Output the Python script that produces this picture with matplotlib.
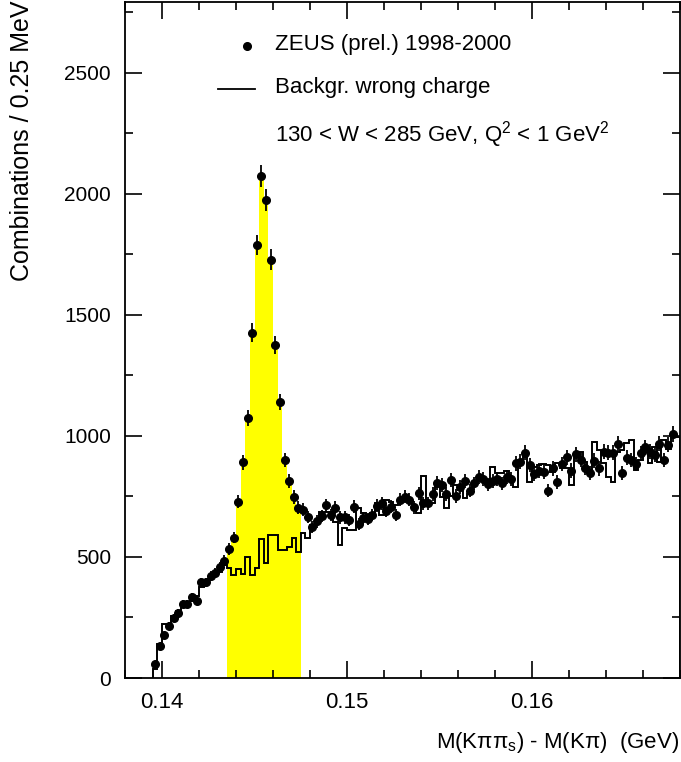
import numpy as np
import matplotlib
matplotlib.use("Agg")
import matplotlib.pyplot as plt
from matplotlib.ticker import MultipleLocator

plt.rcParams['font.family'] = ['Liberation Sans', 'DejaVu Sans']
plt.rcParams['mathtext.fontset'] = 'custom'
plt.rcParams['mathtext.rm'] = 'Liberation Sans'
plt.rcParams['mathtext.it'] = 'Liberation Sans:italic'

# delta M histogram, 0.25 MeV bins starting at 0.1395 GeV
bin_lo = 0.1395
bin_w = 0.00025

# ZEUS data (combinations per bin)
data = [58, 133, 178, 215, 249, 270, 306, 306, 333, 319,
        395, 395, 421, 432, 457, 485, 533, 580, 728, 891,
        1074, 1427, 1788, 2074, 1975, 1729, 1377, 1140, 901, 815,
        748, 704, 695, 665, 624, 647, 669, 713, 673, 704,
        664, 664, 653, 708, 636, 662, 656, 673, 711, 722,
        691, 708, 673, 736, 749, 736, 705, 763, 722, 722,
        760, 807, 797, 760, 818, 752, 790, 814, 774, 804,
        829, 821, 800, 815, 821, 804, 829, 821, 887, 894,
        931, 880, 843, 857, 853, 774, 866, 811, 884, 912,
        857, 924, 901, 869, 846, 898, 866, 935, 931, 931,
        967, 846, 910, 901, 884, 929, 953, 935, 921, 967,
        901, 963, 1008]

# wrong charge background histogram
bkg = [36, 140, 223, 215, 255, 275, 300, 310, 320, 340,
       375, 400, 410, 425, 440, 465, 455, 425, 450, 430,
       500, 425, 455, 575, 475, 590, 590, 530, 530, 540,
       580, 520, 600, 580, 632, 653, 687, 687, 687, 646,
       550, 618, 612, 612, 701, 680, 674, 680, 722, 674,
       736, 729, 715, 736, 749, 736, 700, 680, 835, 715,
       722, 798, 749, 701, 752, 798, 777, 742, 760, 804,
       818, 818, 818, 871, 846, 846, 857, 818, 791, 887,
       928, 811, 873, 880, 884, 880, 853, 887, 866, 866,
       798, 915, 935, 894, 846, 977, 942, 887, 832, 811,
       935, 942, 970, 983, 860, 901, 942, 887, 953, 894,
       983, 945, 997, 997]

# signal window (bins shaded yellow)
sig_lo, sig_hi = 16, 32

data = np.array(data, dtype=float)
bkg = np.array(bkg, dtype=float)
centers = bin_lo + bin_w * (np.arange(len(data)) + 0.5)
edges = bin_lo + bin_w * np.arange(len(bkg) + 1)

fig = plt.figure(figsize=(6.81, 7.62), dpi=100)
ax = fig.add_axes([125/681, 1 - 678/762, 555/681, 676.5/762])

ax.stairs(data[sig_lo:sig_hi], edges[sig_lo:sig_hi + 1], fill=True,
          color='#ffff00', linewidth=0, zorder=1)
ax.stairs(bkg, edges, color='black', linewidth=1.4, baseline=0, zorder=2)
ax.errorbar(centers, data, yerr=np.sqrt(data), fmt='o', color='black',
            ms=5.5, elinewidth=1.3, capsize=0, zorder=3)

ax.set_xlim(0.138, 0.168)
ax.set_ylim(0, 2795)
ax.xaxis.set_major_locator(MultipleLocator(0.01))
ax.xaxis.set_minor_locator(MultipleLocator(0.002))
ax.yaxis.set_major_locator(MultipleLocator(500))
ax.yaxis.set_minor_locator(MultipleLocator(250))
ax.tick_params(which='both', direction='in', top=True, right=True,
               labelsize=15, width=1.2, pad=10)
ax.tick_params(axis='x', labelsize=16)
ax.tick_params(which='major', length=12)
ax.tick_params(which='minor', length=6)
ax.xaxis.set_major_formatter(lambda t, pos: '%.2f' % t)
for s in ax.spines.values():
    s.set_linewidth(1.3)

# legend drawn by hand
ax.plot([0.2198], [0.934], 'o', color='black', ms=5.5, transform=ax.transAxes)
ax.plot([0.1676, 0.2342], [0.871, 0.871], color='black', lw=1.3,
        transform=ax.transAxes)
ax.text(0.27, 0.928, 'ZEUS (prel.) 1998-2000', fontsize=16,
        transform=ax.transAxes, va='baseline')
ax.text(0.27, 0.8647, 'Backgr. wrong charge', fontsize=16,
        transform=ax.transAxes, va='baseline')
ax.text(0.27, 0.7937, r'130 < W < 285 GeV, Q$^2$ < 1 GeV$^2$', fontsize=16,
        transform=ax.transAxes, va='baseline')

fig.text(0.997, 1 - 748/762, 'M(Kππ$_{\\mathrm{s}}$) - M(Kπ)  (GeV)',
         fontsize=16, ha='right', va='baseline')
fig.text(22/681, 0.999, 'Combinations / 0.25 MeV', fontsize=18,
         rotation=90, ha='center', va='top')

fig.savefig('out.png', dpi=100)
